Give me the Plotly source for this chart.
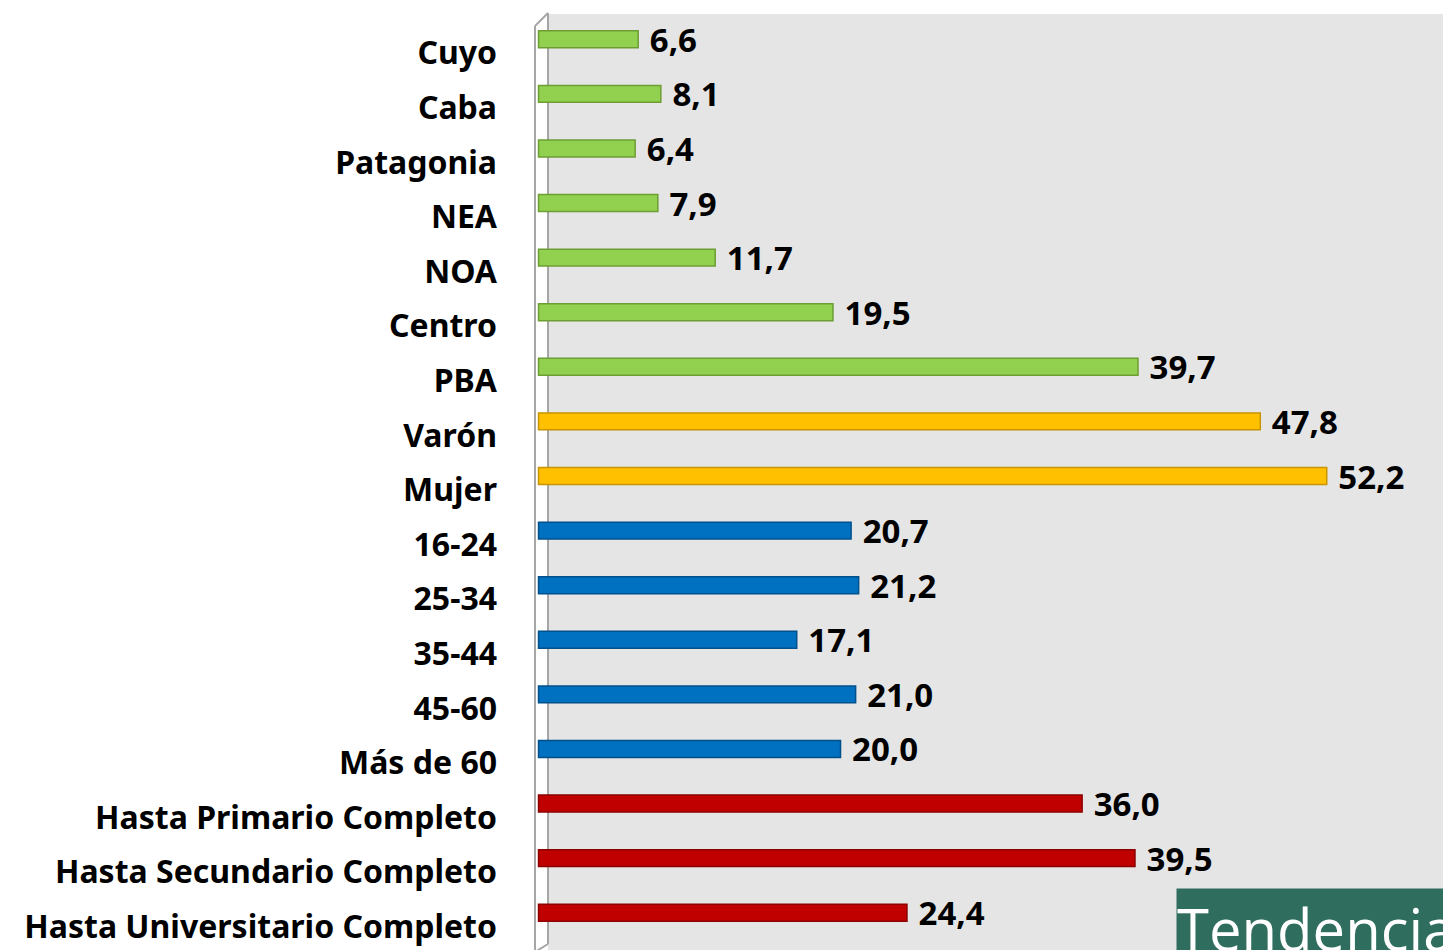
import plotly.graph_objects as go

categories = ["Cuyo", "Caba", "Patagonia", "NEA", "NOA", "Centro", "PBA",
              "Varón", "Mujer",
              "16-24", "25-34", "35-44", "45-60", "Más de 60",
              "Hasta Primario Completo", "Hasta Secundario Completo",
              "Hasta Universitario Completo"]
values = [6.6, 8.1, 6.4, 7.9, 11.7, 19.5, 39.7,
          47.8, 52.2,
          20.7, 21.2, 17.1, 21.0, 20.0,
          36.0, 39.5, 24.4]
groups = ["region"] * 7 + ["sexo"] * 2 + ["edad"] * 5 + ["educ"] * 3

group_color = {"region": "#92d050", "sexo": "#ffc000", "edad": "#0070c0", "educ": "#c00000"}
group_edge = {"region": "#6c9e33", "sexo": "#c89400", "edad": "#00508c", "educ": "#8c0000"}

W, H = 1443, 950
ML, MR, MT, MB = 534, 0, 12, 10
PW, PH = W - ML - MR, H - MT - MB


def px(xp):  # page pixel -> paper
    return (xp - ML) / PW


def py(yp):  # page pixel -> paper
    return (H - MB - yp) / PH


LABEL_FONT = "Noto Sans"

fig = go.Figure()
fig.add_trace(go.Bar(
    y=categories, x=values, orientation="h",
    marker=dict(color=[group_color[g] for g in groups],
                line=dict(color=[group_edge[g] for g in groups], width=1.5)),
    width=0.31,
    text=[" " + f"{v:.1f}".replace(".", ",") for v in values],
    textposition="outside", constraintext="none", cliponaxis=False,
    textfont=dict(family=LABEL_FONT, size=33, color="#000000", weight="bold"),
    hoverinfo="skip",
))

shapes = [
    dict(type="rect", xref="paper", yref="paper", x0=px(548), x1=1.0, y0=py(952), y1=py(14),
         fillcolor="#e5e5e5", line=dict(width=0), layer="below"),
    dict(type="line", xref="paper", yref="paper", x0=px(535), x1=px(535), y0=py(952), y1=py(26),
         line=dict(color="#a6a6a6", width=2), layer="below"),
    dict(type="line", xref="paper", yref="paper", x0=px(548), x1=px(548), y0=py(944), y1=py(13),
         line=dict(color="#a6a6a6", width=2), layer="below"),
    dict(type="line", xref="paper", yref="paper", x0=px(535), x1=px(548), y0=py(26), y1=py(13),
         line=dict(color="#a6a6a6", width=2), layer="below"),
    dict(type="line", xref="paper", yref="paper", x0=px(535), x1=px(548), y0=py(952), y1=py(944),
         line=dict(color="#a6a6a6", width=2), layer="below"),
]

annotations = [
    dict(text="Tendencia", xref="paper", yref="paper", x=px(1176), y=py(888),
         xanchor="left", yanchor="top", showarrow=False,
         font=dict(family="Open Sans", size=58, color="#ffffff"),
         bgcolor="#2f6e5e", borderpad=0),
]

fig.update_layout(
    width=W, height=H,
    margin=dict(l=ML, r=MR, t=MT, b=MB),
    paper_bgcolor="#ffffff", plot_bgcolor="rgba(0,0,0,0)",
    showlegend=False,
    bargap=0.69,
    shapes=shapes, annotations=annotations,
    xaxis=dict(range=[-0.3, 59.9], showgrid=False, zeroline=False, showticklabels=False,
               showline=False, fixedrange=True),
    yaxis=dict(categoryorder="array", categoryarray=categories, autorange="reversed",
               showgrid=False, zeroline=False, showline=False, ticks="",
               tickfont=dict(family=LABEL_FONT, size=32, color="#000000", weight="bold"),
               ticklabelstandoff=36, ticklabelshift=-14, fixedrange=True),
)

fig.write_html(
    "out.html",
    config={"displayModeBar": False},
    post_script="document.body.style.margin='0';document.body.style.overflow='hidden';"
                "document.documentElement.style.overflow='hidden';",
)
